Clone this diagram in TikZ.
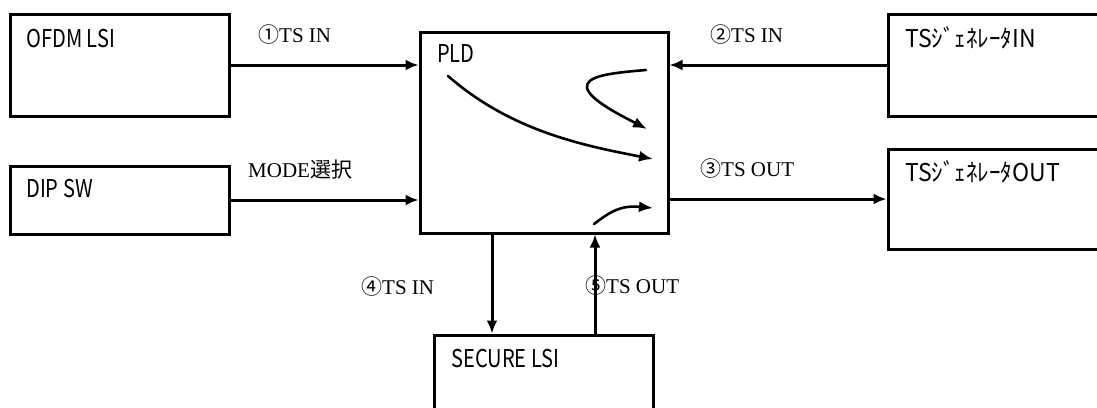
\documentclass[tikz,border=0pt]{standalone}
\usepackage{fontspec}
\setmainfont{Liberation Serif}
\newfontfamily\cjk{Noto Sans CJK JP}
\usetikzlibrary{arrows.meta,calc}
\newcommand{\narrow}[2][0.82]{\scalebox{#1}[1]{#2}}
\begin{document}
\begin{tikzpicture}[x=1pt,y=-1pt,
  box/.style={draw,line width=3pt,rectangle,inner sep=0pt},
  boxtext/.style={anchor=base west,inner sep=0pt,font=\cjk\fontsize{24.5}{24.5}\selectfont},
  lbl/.style={anchor=base west,inner sep=0pt,font=\fontsize{21}{21}\selectfont},
  arr/.style={line width=3pt,-{Latex[length=13pt,width=11pt]}},
  flow/.style={line width=2.6pt,line cap=round,-{Latex[length=14pt,width=11pt]}}]
\useasboundingbox (0,0) rectangle (1097,407);
\clip (0,0) rectangle (1097,407);
% boxes
\node[box,minimum width=219pt,minimum height=102pt] (ofdm) at (119.5,65) {};
\node[box,minimum width=219pt,minimum height=68pt] (dip) at (119.5,200) {};
\node[box,minimum width=248pt,minimum height=201pt] (pld) at (544,132.5) {};
\node[box,minimum width=250pt,minimum height=102pt] (tsin) at (1013,65) {};
\node[box,minimum width=250pt,minimum height=100pt] (tsout) at (1013,199) {};
\node[box,minimum width=219pt,minimum height=120pt] (secure) at (543.5,395) {};
% box texts
\node[boxtext] (tofdm) at (26,47) {\narrow{OFDM LSI}};
\node[boxtext] (tdip) at (26,197) {\narrow{DIP SW}};
\node[boxtext] (tpld) at (437,62) {\narrow{PLD}};
\node[boxtext] (ttsin) at (905,47) {\narrow[0.94]{TSｼﾞｪﾈﾚｰﾀIN}};
\node[boxtext] (ttsout) at (905,181) {\narrow[0.94]{TSｼﾞｪﾈﾚｰﾀOUT}};
\node[boxtext] (tsec) at (451,367) {\narrow{SECURE LSI}};
% connectors
\draw[arr] (ofdm.east) -- (ofdm.east -| pld.west);
\draw[arr] (tsin.west) -- (tsin.west -| pld.east);
\draw[arr] (dip.east) -- (dip.east -| pld.west);
\draw[arr] (tsout.west -| pld.east) -- (tsout.west);
\coordinate (c4) at (492,0);
\coordinate (c5) at (595,0);
\draw[arr] (pld.south -| c4) -- (secure.north -| c4);
\draw[arr] (secure.north -| c5) -- (pld.south -| c5);
% labels
\node[lbl] (l1) at (258,42) {{\cjk ①}TS IN};
\node[lbl] (l2) at (710,42) {{\cjk ②}TS IN};
\node[lbl] (lm) at (248,177) {MODE{\cjk 選択}};
\node[lbl] (l3) at (700,176) {{\cjk ③}TS OUT};
\node[lbl] (l4) at (361,294) {{\cjk ④}TS IN};
\node[lbl] (l5) at (585,293) {{\cjk ⑤}TS OUT};
% internal flows
\draw[flow] (448,76) .. controls (510,130) and (580,145) .. (653,159);
\draw[flow] (646,70) .. controls (610,73) and (585,76) .. (587,88) .. controls (590,100) and (620,115) .. (647,129);
\draw[flow] (594,224) .. controls (610,212) and (620,205) .. (653,208);
\end{tikzpicture}
\end{document}
